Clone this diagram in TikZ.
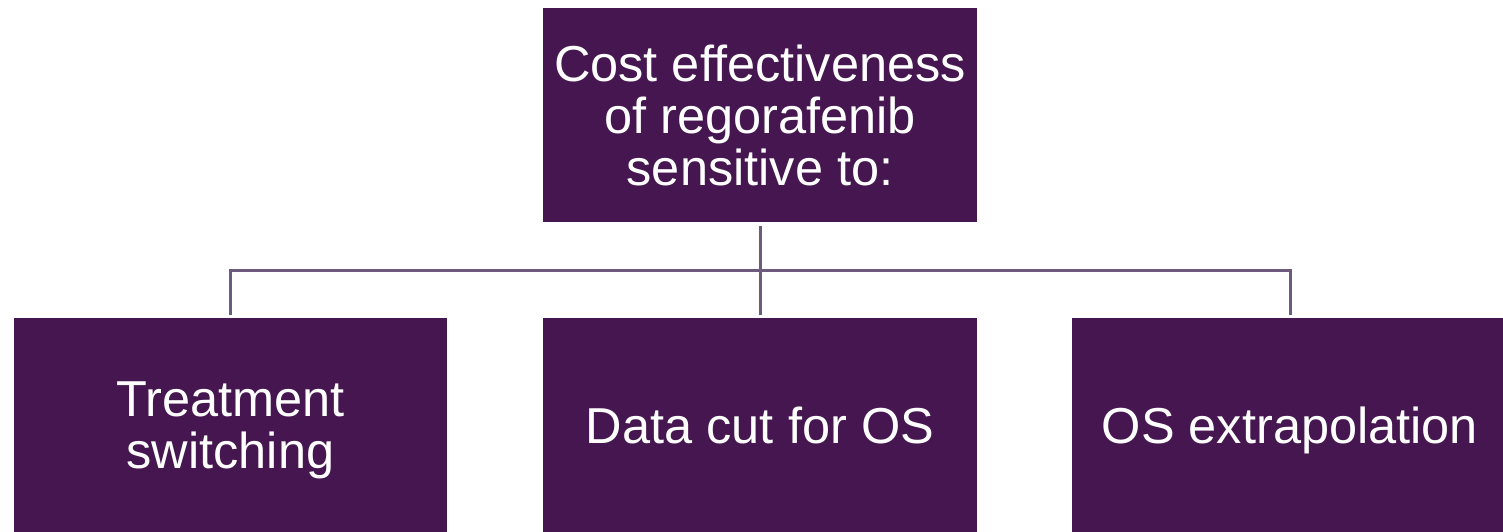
\documentclass[tikz,border=0pt]{standalone}
\usepackage{fontspec}
\setmainfont{Liberation Sans}
\definecolor{boxfill}{HTML}{461650}
\definecolor{linecol}{HTML}{6E5A7E}
\begin{document}
\begin{tikzpicture}[x=1pt,y=-1pt,
  pbox/.style={fill=boxfill, draw=none, inner sep=0pt, minimum width=434pt, minimum height=214pt,
    text=white, align=center, font=\fontsize{50.5}{52}\selectfont},
  lowtext/.style={text depth=0pt},
  conn/.style={draw=linecol, line width=3pt}]
\useasboundingbox (0,0) rectangle (1503,532);
\begin{scope}
\clip (0,0) rectangle (1503,532);
\node[pbox] (top) at (760,115) {Cost effectiveness\\of regorafenib\\sensitive to:};
\node[pbox, lowtext, minimum width=433pt] (b1) at (230.5,425) {Treatment\\switching};
\node[pbox, lowtext] (b2) at (760,425) {Data cut for OS};
\node[pbox, lowtext, minimum width=436pt] (b3) at (1290,425) {OS extrapolation};
\end{scope}
\coordinate (j) at (760,270);
\draw[conn, shorten <=4pt, shorten >=3pt] (top.south) -- (b2.north);
\draw[conn, shorten <=3pt, shorten >=3pt] (b1.north) |- (j) -| (b3.north);
\end{tikzpicture}
\end{document}
